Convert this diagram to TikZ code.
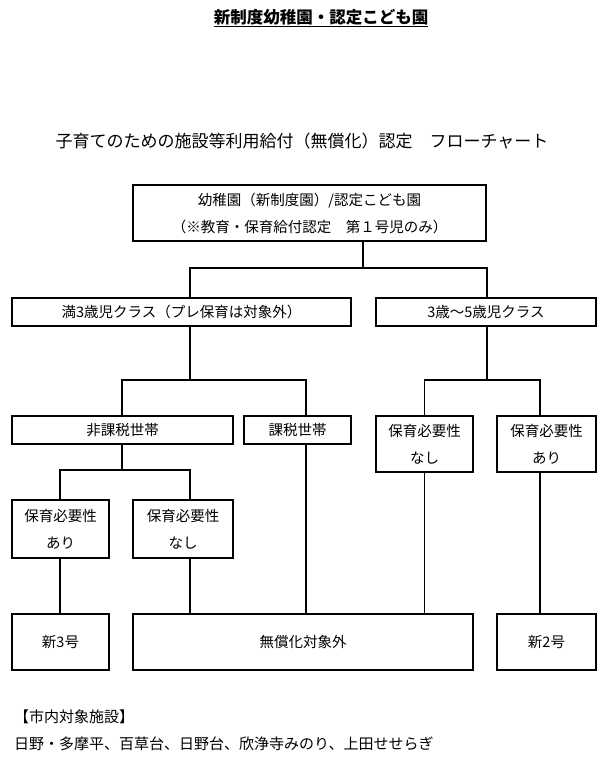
\documentclass[tikz,border=0pt]{standalone}
\usepackage{fontspec}
\setmainfont{Noto Sans CJK JP}
\usetikzlibrary{positioning}
\tikzset{
  box/.style={draw, line width=1.3pt, inner sep=0pt, align=center, font=\fontsize{14.5}{27}\selectfont},
  wire/.style={line width=1.3pt},
  txt/.style={inner sep=0pt, font=\fontsize{15}{17}\selectfont}
}
\begin{document}
\begin{tikzpicture}[x=1pt, y=-1pt]
\useasboundingbox (0,0) rectangle (607,768);

% 見出し
\node[txt, font=\bfseries\fontsize{16.5}{18}\selectfont] (title) at (321,18) {\underline{新制度幼稚園・認定こども園}};
\node[txt, font=\fontsize{17}{19}\selectfont] (sub) at (302,141) {子育てのための施設等利用給付（無償化）認定　フローチャート};

% 箱
\node[box, minimum width=353, minimum height=56] (top) at (309.5,213) {幼稚園（新制度園）/認定こども園\\（※教育・保育給付認定　第１号児のみ）};
\node[box, minimum width=339, minimum height=28] (u3) at (181.5,312) {満3歳児クラス（プレ保育は対象外）};
\node[box, minimum width=220, minimum height=28] (o3) at (486,312) {3歳〜5歳児クラス};
\node[box, minimum width=221, minimum height=28] (hk) at (122.5,430) {非課税世帯};
\node[box, minimum width=107, minimum height=28] (kz) at (297.5,430) {課税世帯};
\node[box, minimum width=97, minimum height=56] (on) at (424.5,444) {保育必要性\\なし};
\node[box, minimum width=99, minimum height=56] (oa) at (546.5,444) {保育必要性\\あり};
\node[box, minimum width=97, minimum height=58] (ua) at (60.5,529) {保育必要性\\あり};
\node[box, minimum width=100, minimum height=58] (un) at (183,529) {保育必要性\\なし};
\node[box, minimum width=97, minimum height=56] (n3) at (60.5,642) {新3号};
\node[box, minimum width=340, minimum height=56] (mu) at (303,642) {無償化対象外};
\node[box, minimum width=99, minimum height=56] (n2) at (546.5,642) {新2号};

% 分岐点
\coordinate (j1) at (363,268);
\coordinate (j2) at (190,380);
\coordinate (j3) at (487,380);
\coordinate (j4) at (122,470);

\draw[wire] (top.south -| j1) -- (j1);
\draw[wire] (u3.north -| 190,0) |- (j1) -| (o3.north -| 487,0);
\draw[wire] (u3.south -| j2) -- (j2);
\draw[wire] (hk.north -| j4) |- (j2) -| (kz.north -| 306,0);
\draw[wire] (o3.south -| j3) -- (j3);
\draw[wire] (on.north) |- (j3) -| (oa.north -| 540,0);
\draw[wire] (hk.south -| j4) -- (j4);
\draw[wire] (ua.north -| 60,0) |- (j4) -| (un.north -| 190,0);
\draw[wire] (ua.south -| 60,0) -- (n3.north -| 60,0);
\draw[wire] (un.south -| 190,0) -- (mu.north -| 190,0);
\draw[wire] (kz.south -| 306,0) -- (mu.north -| 306,0);
\draw[wire] (on.south) -- (mu.north -| on.south);
\draw[wire] (oa.south -| 540,0) -- (n2.north -| 540,0);

% 施設
\node[txt, anchor=west] (fac) at (14,717) {【市内対象施設】};
\node[txt, anchor=west] (list) at (14,744) {日野・多摩平、百草台、日野台、欣浄寺みのり、上田せせらぎ};
\end{tikzpicture}
\end{document}
